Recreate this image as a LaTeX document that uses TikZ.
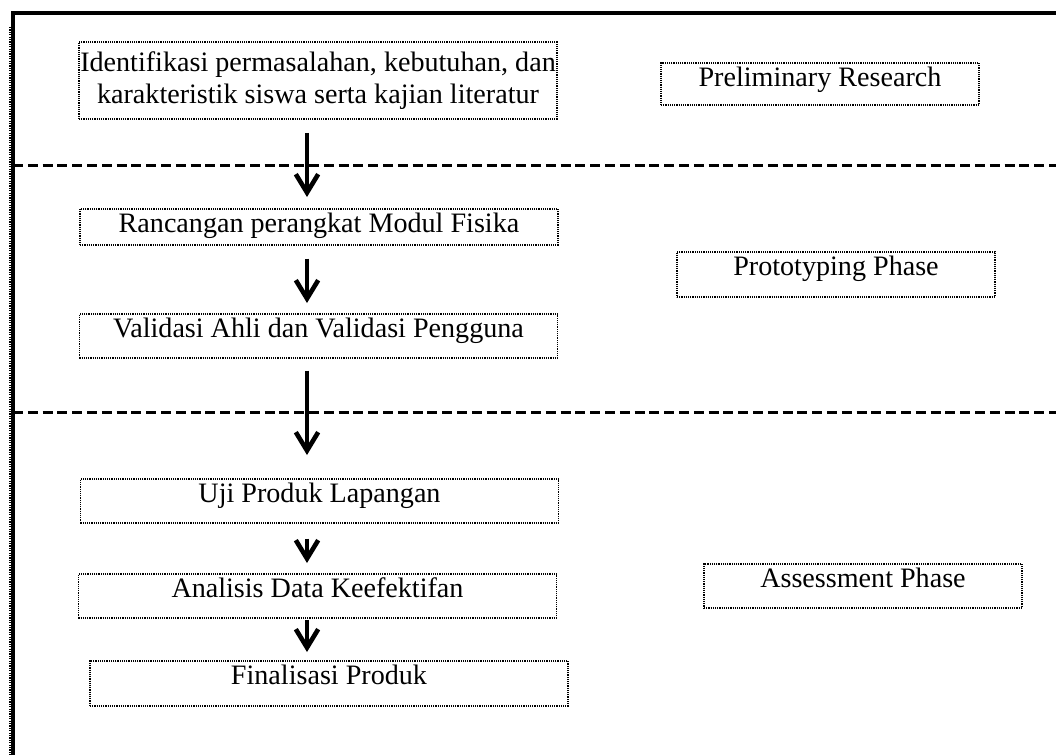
\documentclass[tikz,border=0pt]{standalone}
\usepackage{fontspec}
\setmainfont{Liberation Serif}
\usetikzlibrary{arrows.meta,calc,positioning}
\tikzset{
  every node/.style={font=\fontsize{20}{23}\selectfont, text=black},
  frameline/.style={draw=black, line width=1mm},
  phaseline/.style={draw=black, line width=0.75mm, dash pattern=on 2.5mm off 1.2mm},
  dotbox/.style={draw=black, line width=0.4mm, dash pattern=on 0.3mm off 0.25mm, inner xsep=0pt, inner ysep=0.5mm},
  stepbox/.style={dotbox, anchor=north, minimum width=119.5mm, text height=5.5mm, text depth=4.5mm},
  phasebox/.style={dotbox, anchor=north, minimum width=79.5mm, text height=5.5mm, text depth=4.5mm},
  flow/.style={-{Straight Barb[length=4.6mm,width=5.6mm,line width=1.15mm]}, draw=black, line width=0.95mm},
}

\begin{document}
\begin{tikzpicture}[x=0.25mm,y=-0.25mm]
  % source grid: 1056 x 755 units, y runs downwards
  \useasboundingbox (0,0) rectangle (1056,755);
  % frame and phase separators
  \draw[black, line width=0.5mm, dash pattern=on 0.3mm off 0.3mm] (10,27) -- (10,755);
  \draw[frameline] (13,755) -- (13,13) -- (1056,13);
  \foreach \y in {165,412}
    \draw[phaseline] (13,\y) -- (1056,\y);
  % steps (left column)
  \node[dotbox, align=center, minimum width=119.5mm, minimum height=19.25mm] (ident) at (318,80.5)
    {Identifikasi permasalahan, kebutuhan, dan\\karakteristik siswa serta kajian literatur};
  \node[stepbox, text depth=2.5mm] (design) at (319,208) {Rancangan perangkat Modul Fisika};
  \node[stepbox] (valid) at (318.5,313) {Validasi Ahli dan Validasi Pengguna};
  \node[stepbox] (uji) at (319.5,478) {Uji Produk Lapangan};
  \node[stepbox] (analisis) at (317.5,573) {Analisis Data Keefektifan};
  \node[stepbox, text depth=4.75mm] (final) at (329,660) {Finalisasi Produk};
  % phase labels (right column)
  \node[phasebox, text depth=4mm] (prelim) at (820,62) {Preliminary Research};
  \node[phasebox, text depth=4.75mm] (proto) at (836,251) {Prototyping Phase};
  \node[phasebox] (assess) at (863,563) {Assessment Phase};
  % flow arrows
  \coordinate (spine) at (307,0);
  \draw[flow, shorten <=3.25mm, shorten >=2.75mm] (ident.south -| spine) -- (design.north -| spine);
  \draw[flow, shorten <=3.25mm, shorten >=2.5mm] (design.south -| spine) -- (valid.north -| spine);
  \draw[flow, shorten <=3mm, shorten >=5.75mm] (valid.south -| spine) -- (uji.north -| spine);
  \draw[flow, shorten <=3.75mm, shorten >=2.5mm] (uji.south -| spine) -- (analisis.north -| spine);
  \draw[flow, shorten <=0.25mm, shorten >=2mm] (analisis.south -| spine) -- (final.north -| spine);
\end{tikzpicture}
\end{document}
